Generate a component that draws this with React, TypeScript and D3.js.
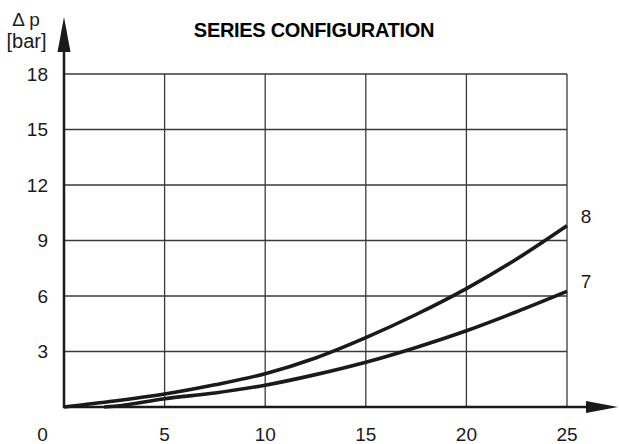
import { useEffect, useRef } from "react"
import * as d3 from "d3"

// flow (x) and pressure drop readings for the two curves
const flowTicks = [0, 5, 10, 15, 20, 25]
const dpTicks = [3, 6, 9, 12, 15, 18]

const curve8X = [0, 2.5, 5, 7.5, 10, 12.5, 15, 17.5, 20, 22.5, 25]
const curve8Y = [0, 0.32, 0.7, 1.2, 1.8, 2.65, 3.75, 5.0, 6.4, 8.0, 9.8]

const curve7X = [2, 2.5, 5, 7.5, 10, 12.5, 15, 17.5, 20, 22.5, 25]
const curve7Y = [0, 0.04, 0.45, 0.76, 1.18, 1.75, 2.42, 3.22, 4.12, 5.15, 6.25]

const curveLabels = ["8", "7"]

export default function App() {
  const svgRef = useRef<SVGSVGElement>(null)

  useEffect(() => {
    if (!svgRef.current) return
    const svg = d3.select(svgRef.current)
    svg.selectAll("*").remove()

    const width = 619
    const height = 444
    const font = "'Liberation Sans', Arial, sans-serif"
    const ink = "#1a1a1a"

    svg.attr("width", width).attr("height", height)

    const x = d3.scaleLinear().domain([0, 25]).range([64, 567])
    const y = d3.scaleLinear().domain([0, 18]).range([407, 74])

    // grid
    const grid = svg.append("g").attr("stroke", "#3a3a3a").attr("stroke-width", 1.3)
    grid
      .selectAll("line.v")
      .data(flowTicks.slice(1))
      .enter()
      .append("line")
      .attr("x1", (d) => x(d))
      .attr("x2", (d) => x(d))
      .attr("y1", y(0))
      .attr("y2", y(18))
    grid
      .selectAll("line.h")
      .data(dpTicks)
      .enter()
      .append("line")
      .attr("x1", x(0))
      .attr("x2", x(25))
      .attr("y1", (d) => y(d))
      .attr("y2", (d) => y(d))

    // axes with arrows
    svg
      .append("line")
      .attr("x1", x(0))
      .attr("x2", x(0))
      .attr("y1", y(0) + 1)
      .attr("y2", 50)
      .attr("stroke", ink)
      .attr("stroke-width", 2.5)
    svg
      .append("path")
      .attr("d", `M${x(0)},17 L${x(0) - 6.5},52 L${x(0) + 6.5},52 Z`)
      .attr("fill", ink)

    svg
      .append("line")
      .attr("x1", x(0) - 1)
      .attr("x2", 590)
      .attr("y1", y(0))
      .attr("y2", y(0))
      .attr("stroke", ink)
      .attr("stroke-width", 2.5)
    svg
      .append("path")
      .attr("d", `M618,${y(0)} L586,${y(0) - 6} L586,${y(0) + 6} Z`)
      .attr("fill", ink)

    // tick labels
    svg
      .selectAll("text.ytick")
      .data(dpTicks)
      .enter()
      .append("text")
      .attr("x", 48)
      .attr("y", (d) => y(d) + 6.5)
      .attr("text-anchor", "end")
      .style("font-family", font)
      .style("font-size", "19px")
      .style("fill", ink)
      .text((d) => d)

    svg
      .selectAll("text.xtick")
      .data(flowTicks)
      .enter()
      .append("text")
      .attr("x", (d) => (d === 0 ? 42.5 : x(d)))
      .attr("y", 440.5)
      .attr("text-anchor", "middle")
      .style("font-family", font)
      .style("font-size", "19px")
      .style("fill", ink)
      .text((d) => d)

    // axis unit label
    svg
      .append("text")
      .attr("x", 26)
      .attr("y", 26)
      .attr("text-anchor", "middle")
      .style("font-family", font)
      .style("font-size", "19px")
      .style("fill", ink)
      .text("Δ p")
    svg
      .append("text")
      .attr("x", 26.5)
      .attr("y", 48)
      .attr("text-anchor", "middle")
      .style("font-family", font)
      .style("font-size", "20px")
      .style("fill", ink)
      .text("[bar]")

    // title
    svg
      .append("text")
      .attr("x", 314)
      .attr("y", 37)
      .attr("text-anchor", "middle")
      .style("font-family", font)
      .style("font-size", "20px")
      .style("font-weight", "bold")
      .style("letter-spacing", "-0.3px")
      .style("fill", "#000")
      .text("SERIES CONFIGURATION")

    // curves
    const line = d3
      .line<[number, number]>()
      .x((d) => x(d[0]))
      .y((d) => y(d[1]))
      .curve(d3.curveMonotoneX)

    const series: [number, number][][] = [
      curve8X.map((v, i) => [v, curve8Y[i]]),
      curve7X.map((v, i) => [v, curve7Y[i]]),
    ]

    svg
      .selectAll("path.curve")
      .data(series)
      .enter()
      .append("path")
      .attr("d", (d) => line(d))
      .attr("fill", "none")
      .attr("stroke", ink)
      .attr("stroke-width", 3.6)

    svg
      .selectAll("text.clabel")
      .data(series)
      .enter()
      .append("text")
      .attr("x", 586)
      .attr("y", (d) => y(d[d.length - 1][1]) - 3)
      .attr("text-anchor", "middle")
      .style("font-family", font)
      .style("font-size", "19px")
      .style("fill", ink)
      .text((d, i) => curveLabels[i])
  }, [])

  return (
    <svg
      ref={svgRef}
      style={{ position: "absolute", left: 0, top: 0, background: "#fff" }}
    ></svg>
  )
}
